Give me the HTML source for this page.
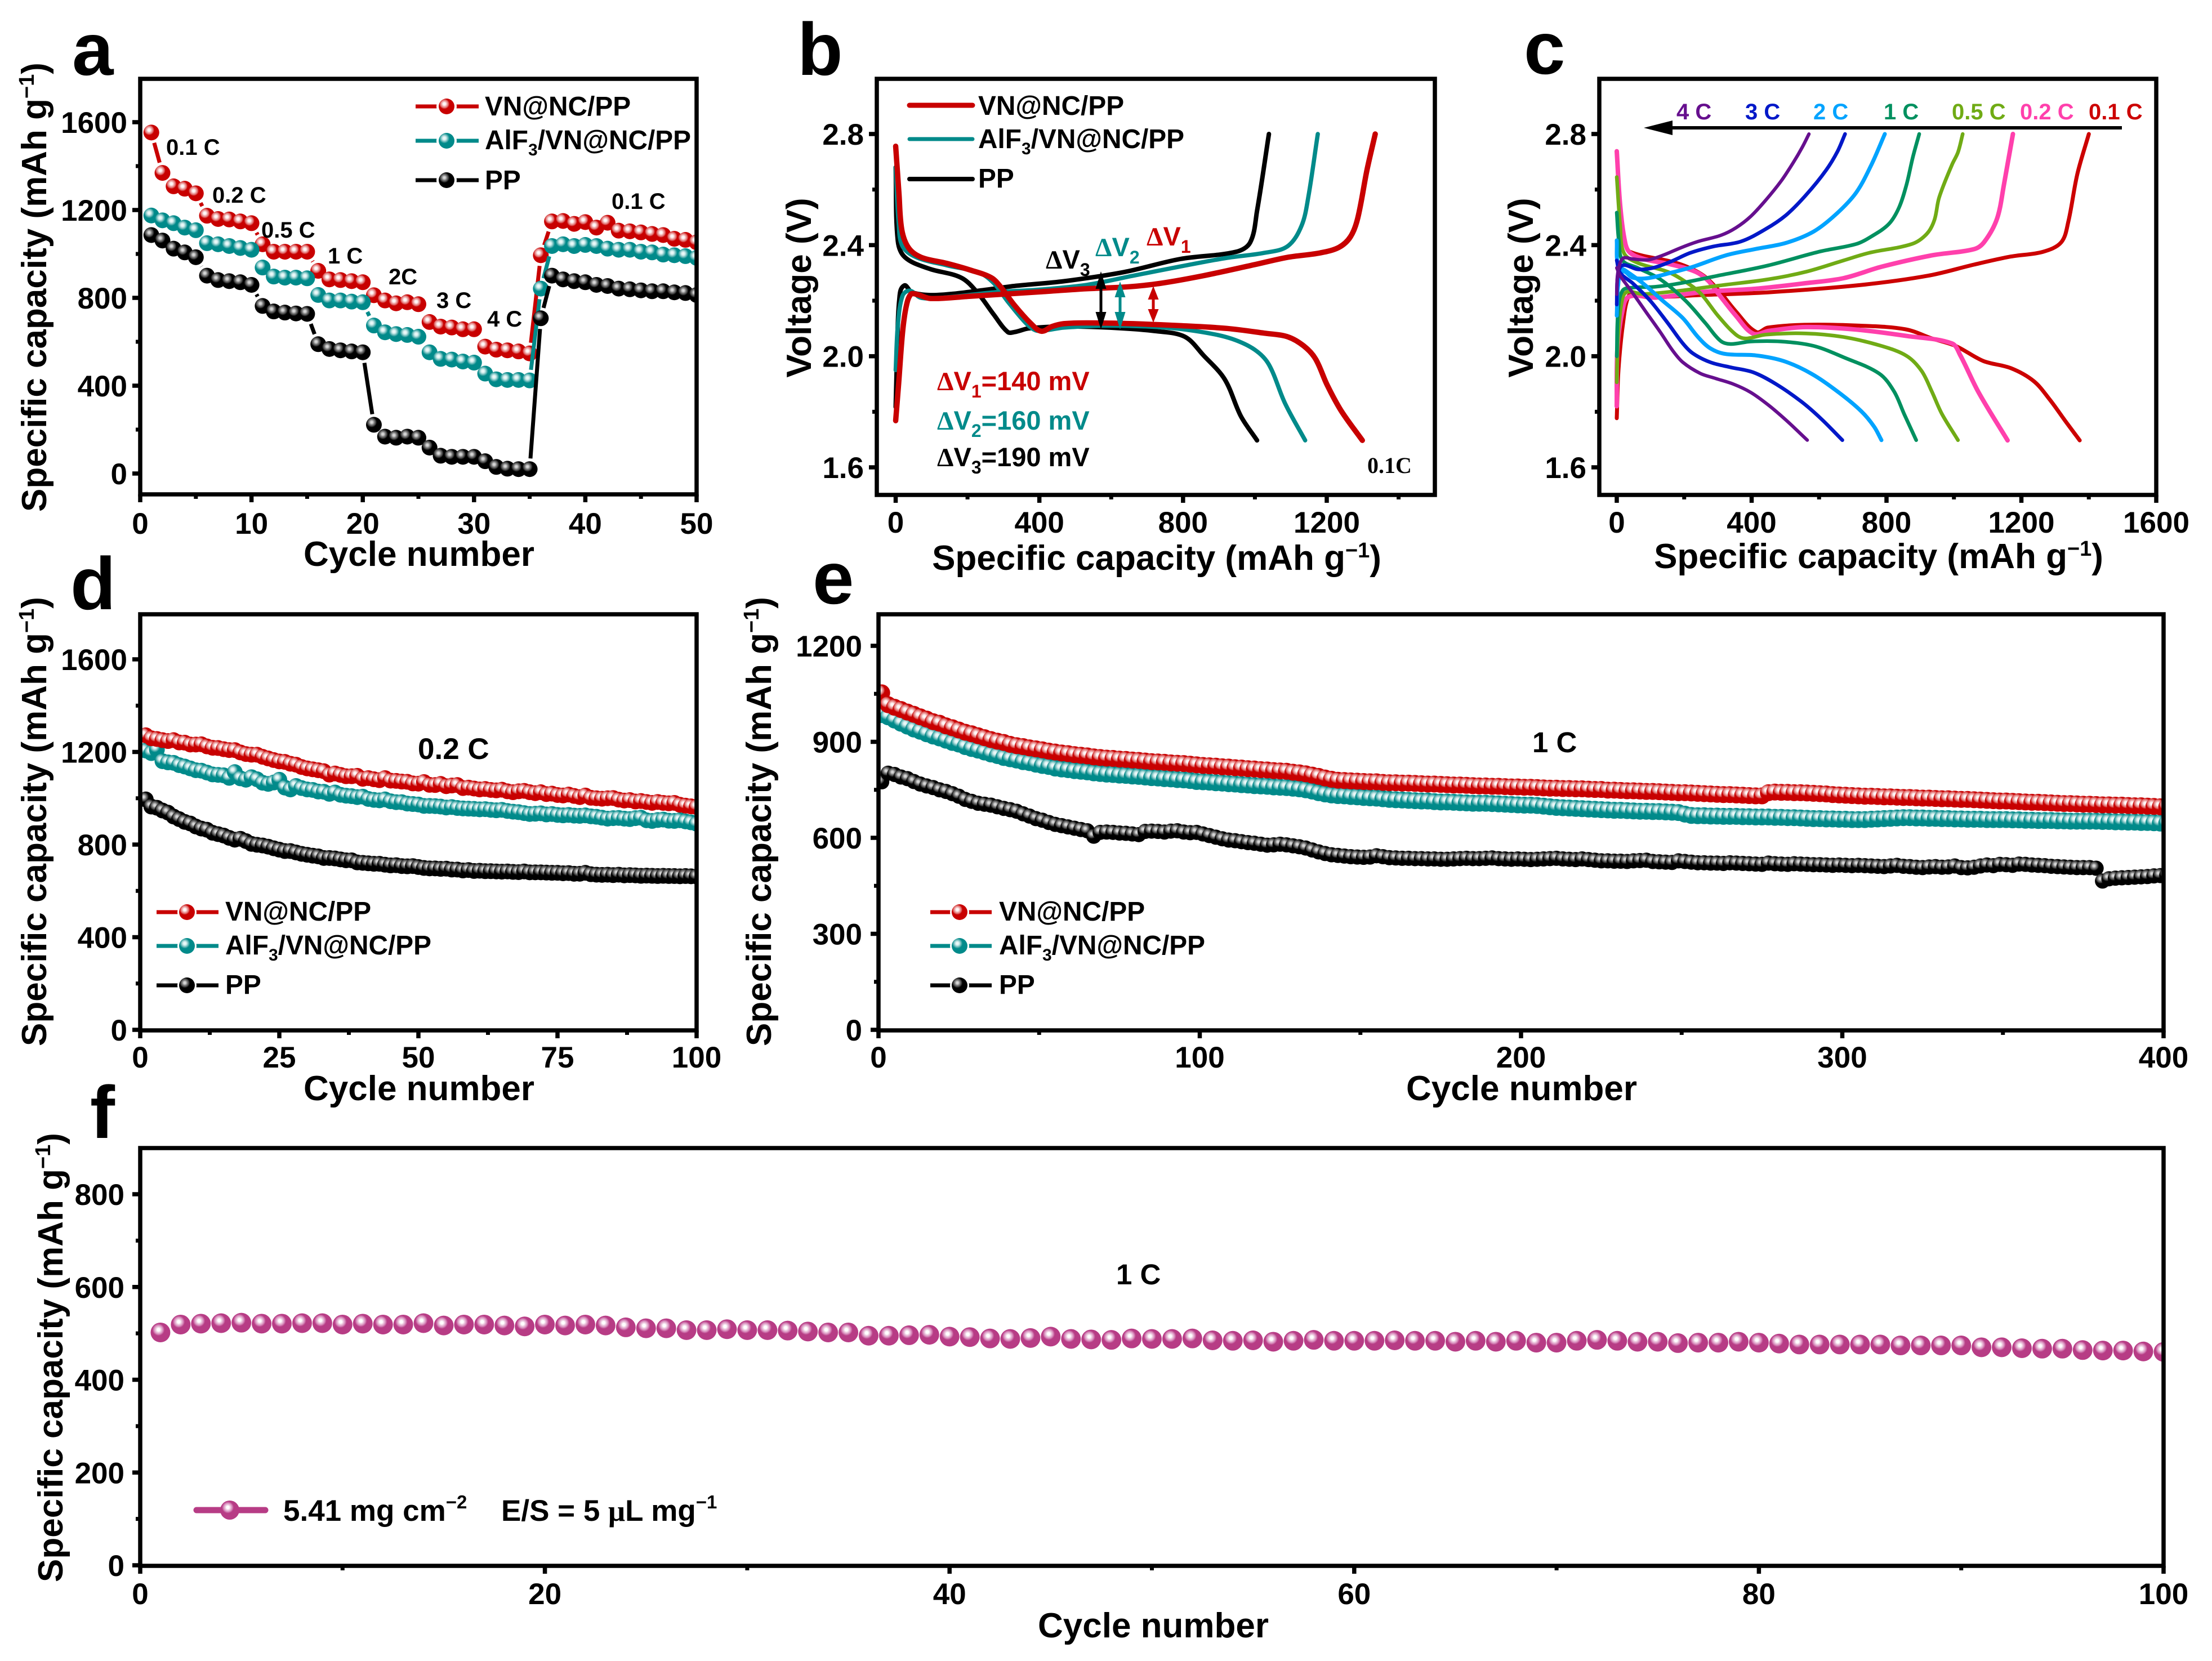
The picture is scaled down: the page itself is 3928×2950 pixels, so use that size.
<!DOCTYPE html>
<html lang="en">
<head>
<meta charset="utf-8">
<title>Battery performance figure</title>
<style>
html,body{margin:0;padding:0;background:#fff;}
svg{display:block;}
text{font-family:"Liberation Sans",sans-serif;font-weight:bold;fill:#000;}
.sym{font-family:"Liberation Serif",serif;font-weight:bold;}
.letter{font-size:132px;}
.title{font-size:62px;}
.leg{font-size:47.8px;}
.lab{font-size:40px;}
.tick{font-size:53px;}
.frame{fill:none;stroke:#000;stroke-width:7.5;}
</style>
</head>
<body>
<svg xmlns="http://www.w3.org/2000/svg" width="3928" height="2950" viewBox="0 0 3928 2950">
<defs>
<radialGradient id="gr" cx=".36" cy=".34" r=".5"><stop offset="0" stop-color="#fff"/><stop offset=".18" stop-color="#fdf0f0"/><stop offset=".3" stop-color="#f2baba"/><stop offset=".5" stop-color="#df6a6a"/><stop offset=".66" stop-color="#c80000"/><stop offset="1" stop-color="#c80000"/></radialGradient>
<radialGradient id="gt" cx=".36" cy=".34" r=".5"><stop offset="0" stop-color="#f4fcfc"/><stop offset=".18" stop-color="#e0f4f4"/><stop offset=".3" stop-color="#b4dede"/><stop offset=".5" stop-color="#52aeae"/><stop offset=".66" stop-color="#008a8a"/><stop offset="1" stop-color="#008a8a"/></radialGradient>
<radialGradient id="gk" cx=".36" cy=".34" r=".5"><stop offset="0" stop-color="#e4e4e4"/><stop offset=".18" stop-color="#c4c4c4"/><stop offset=".3" stop-color="#8a8a8a"/><stop offset=".5" stop-color="#444"/><stop offset=".66" stop-color="#000"/><stop offset="1" stop-color="#000"/></radialGradient>
<radialGradient id="gm" cx=".4" cy=".36" r=".5"><stop offset="0" stop-color="#fff"/><stop offset=".14" stop-color="#fff"/><stop offset=".26" stop-color="#eed0e2"/><stop offset=".44" stop-color="#d98fbe"/><stop offset=".62" stop-color="#b73c85"/><stop offset="1" stop-color="#b73c85"/></radialGradient>
<clipPath id="clip-a"><rect x="249" y="140" width="988" height="738"/></clipPath>
<clipPath id="clip-b"><rect x="1557" y="140" width="991" height="739"/></clipPath>
<clipPath id="clip-c"><rect x="2840" y="140" width="989" height="739"/></clipPath>
<clipPath id="clip-d"><rect x="249" y="1091" width="988" height="739"/></clipPath>
<clipPath id="clip-e"><rect x="1560" y="1091" width="2282" height="739"/></clipPath>
<clipPath id="clip-f"><rect x="249" y="2039" width="3593" height="742"/></clipPath>
</defs>

<!-- PANEL A -->
<g>
<text class="letter" x="128" y="133">a</text>
<g id="series-a" clip-path="url(#clip-a)"></g>
<rect class="frame" x="249" y="140" width="988" height="738"/>
<g id="ticks-a"></g>
<text class="title" transform="translate(82 510) rotate(-90)" text-anchor="middle">Specific capacity (mAh g<tspan dy="-22" font-size="38">−1</tspan><tspan dy="22">)</tspan></text>
<text class="title" x="744" y="1005" text-anchor="middle">Cycle number</text>
<g>
<text class="lab" x="295" y="275">0.1 C</text>
<text class="lab" x="377" y="360">0.2 C</text>
<text class="lab" x="464" y="422">0.5 C</text>
<text class="lab" x="582" y="468">1 C</text>
<text class="lab" x="690" y="505">2C</text>
<text class="lab" x="775" y="547">3 C</text>
<text class="lab" x="865" y="580">4 C</text>
<text class="lab" x="1086" y="371">0.1 C</text>
</g>
<g>
<line x1="738" x2="850" y1="189" y2="189" stroke="#c80000" stroke-width="7"/>
<circle cx="793" cy="189" r="18" fill="#fff"/>
<circle cx="793" cy="189" r="14" fill="url(#gr)"/>
<text class="leg" x="861" y="205">VN@NC/PP</text>
<line x1="738" x2="850" y1="250" y2="250" stroke="#008a8a" stroke-width="7"/>
<circle cx="793" cy="250" r="18" fill="#fff"/>
<circle cx="793" cy="250" r="14" fill="url(#gt)"/>
<text class="leg" x="861" y="265">AlF<tspan dy="11" font-size="30">3</tspan><tspan dy="-11">/VN@NC/PP</tspan></text>
<line x1="738" x2="850" y1="320" y2="320" stroke="#000" stroke-width="7"/>
<circle cx="793" cy="320" r="18" fill="#fff"/>
<circle cx="793" cy="320" r="14" fill="url(#gk)"/>
<text class="leg" x="861" y="336">PP</text>
</g>
</g>

<!-- PANEL B -->
<g>
<text class="letter" x="1416" y="133">b</text>
<g id="series-b" clip-path="url(#clip-b)"></g>
<rect class="frame" x="1557" y="140" width="991" height="739"/>
<g id="ticks-b"></g>
<text class="title" transform="translate(1440 511) rotate(-90)" text-anchor="middle">Voltage (V)</text>
<text class="title" x="2054" y="1012" text-anchor="middle">Specific capacity (mAh g<tspan dy="-22" font-size="38">−1</tspan><tspan dy="22">)</tspan></text>
<g>
<line x1="1615" x2="1727" y1="187" y2="187" stroke="#c80000" stroke-width="9" stroke-linecap="round"/>
<text class="leg" x="1737" y="204">VN@NC/PP</text>
<line x1="1615" x2="1727" y1="247" y2="247" stroke="#008a8a" stroke-width="7" stroke-linecap="round"/>
<text class="leg" x="1737" y="263">AlF<tspan dy="11" font-size="30">3</tspan><tspan dy="-11">/VN@NC/PP</tspan></text>
<line x1="1615" x2="1727" y1="318" y2="318" stroke="#000" stroke-width="8" stroke-linecap="round"/>
<text class="leg" x="1737" y="333">PP</text>
</g>
<g>
<g fill="#000" stroke="none"><rect x="1952.5" y="505" width="5" height="60"/><polygon points="1955,482 1945.5,513 1964.5,513"/><polygon points="1955,585 1945.5,554 1964.5,554"/></g>
<g fill="#008a8a" stroke="none"><rect x="1986.5" y="520" width="5" height="45"/><polygon points="1989,500 1979.5,528 1998.5,528"/><polygon points="1989,585 1979.5,554 1998.5,554"/></g>
<g fill="#c80000" stroke="none"><rect x="2045.5" y="525" width="5" height="30"/><polygon points="2048,508 2038.5,532 2057.5,532"/><polygon points="2048,573 2038.5,549 2057.5,549"/></g>
</g>
<g font-size="47">
<text x="1857" y="477" font-size="47"><tspan class="sym">Δ</tspan>V<tspan dy="13" font-size="32">3</tspan></text>
<text x="1945" y="455" font-size="47" style="fill:#008a8a"><tspan class="sym">Δ</tspan>V<tspan dy="13" font-size="32">2</tspan></text>
<text x="2036" y="436" font-size="47" style="fill:#c80000"><tspan class="sym">Δ</tspan>V<tspan dy="13" font-size="32">1</tspan></text>
<text x="1664" y="693" font-size="47" style="fill:#c80000"><tspan class="sym">Δ</tspan>V<tspan dy="13" font-size="32">1</tspan><tspan dy="-13">=140 mV</tspan></text>
<text x="1664" y="763" font-size="47" style="fill:#008a8a"><tspan class="sym">Δ</tspan>V<tspan dy="13" font-size="32">2</tspan><tspan dy="-13">=160 mV</tspan></text>
<text x="1664" y="828" font-size="47"><tspan class="sym">Δ</tspan>V<tspan dy="13" font-size="32">3</tspan><tspan dy="-13">=190 mV</tspan></text>
<text class="sym" x="2428" y="840" font-size="40">0.1C</text>
</g>
</g>

<!-- PANEL C -->
<g>
<text class="letter" x="2706" y="131">c</text>
<g id="series-c" clip-path="url(#clip-c)"></g>
<rect class="frame" x="2840" y="140" width="989" height="739"/>
<g id="ticks-c"></g>
<text class="title" transform="translate(2722 511) rotate(-90)" text-anchor="middle">Voltage (V)</text>
<text class="title" x="3336" y="1009" text-anchor="middle">Specific capacity (mAh g<tspan dy="-22" font-size="38">−1</tspan><tspan dy="22">)</tspan></text>
<g>
<rect x="2965" y="224" width="803" height="6" fill="#000"/>
<polygon points="2919,227 2970,214 2970,240" fill="#000"/>
</g>
<g>
<text class="lab" x="2977" y="212" style="fill:#660f8e">4 C</text>
<text class="lab" x="3099" y="212" style="fill:#0018c8">3 C</text>
<text class="lab" x="3220" y="212" style="fill:#00a3ff">2 C</text>
<text class="lab" x="3345" y="212" style="fill:#00905f">1 C</text>
<text class="lab" x="3466" y="212" style="fill:#70ab15">0.5 C</text>
<text class="lab" x="3587" y="212" style="fill:#ff40ac">0.2 C</text>
<text class="lab" x="3709" y="212" style="fill:#cc0000">0.1 C</text>
</g>
</g>

<!-- PANEL D -->
<g>
<text class="letter" x="125" y="1082">d</text>
<g id="series-d" clip-path="url(#clip-d)"></g>
<rect class="frame" x="249" y="1091" width="988" height="739"/>
<g id="ticks-d"></g>
<text class="title" transform="translate(82 1459) rotate(-90)" text-anchor="middle">Specific capacity (mAh g<tspan dy="-22" font-size="38">−1</tspan><tspan dy="22">)</tspan></text>
<text class="title" x="744" y="1954" text-anchor="middle">Cycle number</text>
<text x="742" y="1348" font-size="53">0.2 C</text>
<g>
<line x1="278" x2="388" y1="1620" y2="1620" stroke="#c80000" stroke-width="7"/>
<circle cx="332" cy="1620" r="17" fill="#fff"/>
<circle cx="332" cy="1620" r="14" fill="url(#gr)"/>
<text class="leg" x="400" y="1635">VN@NC/PP</text>
<line x1="278" x2="388" y1="1680" y2="1680" stroke="#008a8a" stroke-width="7"/>
<circle cx="332" cy="1680" r="17" fill="#fff"/>
<circle cx="332" cy="1680" r="14" fill="url(#gt)"/>
<text class="leg" x="400" y="1695">AlF<tspan dy="11" font-size="30">3</tspan><tspan dy="-11">/VN@NC/PP</tspan></text>
<line x1="278" x2="388" y1="1750" y2="1750" stroke="#000" stroke-width="7"/>
<circle cx="332" cy="1750" r="17" fill="#fff"/>
<circle cx="332" cy="1750" r="14" fill="url(#gk)"/>
<text class="leg" x="400" y="1765">PP</text>
</g>
</g>

<!-- PANEL E -->
<g>
<text class="letter" x="1443" y="1072">e</text>
<g id="series-e" clip-path="url(#clip-e)"></g>
<rect class="frame" x="1560" y="1091" width="2282" height="739"/>
<g id="ticks-e"></g>
<text class="title" transform="translate(1369 1459) rotate(-90)" text-anchor="middle">Specific capacity (mAh g<tspan dy="-22" font-size="38">−1</tspan><tspan dy="22">)</tspan></text>
<text class="title" x="2702" y="1954" text-anchor="middle">Cycle number</text>
<text x="2721" y="1336" font-size="51">1 C</text>
<g>
<line x1="1652" x2="1761" y1="1620" y2="1620" stroke="#c80000" stroke-width="7"/>
<circle cx="1704" cy="1620" r="17" fill="#fff"/>
<circle cx="1704" cy="1620" r="14" fill="url(#gr)"/>
<text class="leg" x="1774" y="1635">VN@NC/PP</text>
<line x1="1652" x2="1761" y1="1680" y2="1680" stroke="#008a8a" stroke-width="7"/>
<circle cx="1704" cy="1680" r="17" fill="#fff"/>
<circle cx="1704" cy="1680" r="14" fill="url(#gt)"/>
<text class="leg" x="1774" y="1695">AlF<tspan dy="11" font-size="30">3</tspan><tspan dy="-11">/VN@NC/PP</tspan></text>
<line x1="1652" x2="1761" y1="1750" y2="1750" stroke="#000" stroke-width="7"/>
<circle cx="1704" cy="1750" r="17" fill="#fff"/>
<circle cx="1704" cy="1750" r="14" fill="url(#gk)"/>
<text class="leg" x="1774" y="1765">PP</text>
</g>
</g>

<!-- PANEL F -->
<g>
<text class="letter" x="160" y="2021">f</text>
<g id="series-f" clip-path="url(#clip-f)"></g>
<rect class="frame" x="249" y="2039" width="3593" height="742"/>
<g id="ticks-f"></g>
<text class="title" transform="translate(111 2411) rotate(-90)" text-anchor="middle">Specific capacity (mAh g<tspan dy="-22" font-size="38">−1</tspan><tspan dy="22">)</tspan></text>
<text class="title" x="2048" y="2908" text-anchor="middle">Cycle number</text>
<text x="1982" y="2281" font-size="51">1 C</text>
<g>
<line x1="349" x2="471" y1="2682" y2="2682" stroke="#b73c85" stroke-width="11" stroke-linecap="round"/>
<circle cx="408" cy="2682" r="17" fill="url(#gm)"/>
<text x="503" y="2701" font-size="53">5.41 mg cm<tspan dy="-22" font-size="33">−2</tspan></text>
<text x="890" y="2701" font-size="53">E/S = 5 <tspan class="sym">μ</tspan>L mg<tspan dy="-22" font-size="33">−1</tspan></text>
</g>
</g>
</svg>

<script>
// ---------- Panel a: rate capability (cycles 1..50) ----------
const aVn = [1553,1369,1308,1297,1276,1174,1159,1157,1148,1140,1044,1010,1010,1010,1010,923,884,881,876,871,812,788,775,780,771,690,669,665,657,657,578,564,561,556,547,994,1148,1150,1137,1145,1120,1142,1106,1103,1098,1091,1086,1069,1064,1053];
const aAlf = [1175,1153,1140,1120,1108,1049,1044,1036,1027,1019,938,897,892,892,889,813,788,788,783,780,674,643,635,631,623,552,522,519,510,505,455,429,426,426,424,842,1036,1044,1036,1041,1036,1024,1019,1019,1010,1007,997,994,990,982];
const aPp = [1086,1061,1024,1007,985,901,881,876,871,859,763,738,733,729,727,589,567,561,556,552,222,168,163,168,163,118,81,76,76,76,56,30,22,20,20,707,901,884,876,871,859,854,842,839,834,830,830,825,822,813];
const aXTicks = ['0','10','20','30','40','50'];
const aXMinor = [5,15,25,35,45];
const aYTicks = ['0','400','800','1200','1600'];
const aYMinor = [200,600,1000,1400];

// ---------- Panel b: voltage profiles at 0.1 C, [capacity, voltage] ----------
const bVnDis = [[0,2.756],[9,2.59],[17,2.456],[36,2.39],[71,2.356],[143,2.334],[208,2.31],[266,2.283],[292,2.25],[331,2.183],[377,2.117],[406,2.09],[435,2.107],[468,2.117],[532,2.12],[662,2.117],[792,2.11],[922,2.1],[1026,2.083],[1091,2.07],[1136,2.037],[1169,1.99],[1201,1.897],[1240,1.804],[1299,1.697]];
const bVnCha = [[0,1.768],[8,1.897],[19,2.083],[29,2.177],[42,2.223],[58,2.223],[97,2.208],[208,2.216],[403,2.232],[532,2.243],[649,2.25],[740,2.263],[857,2.29],[1000,2.33],[1091,2.356],[1182,2.372],[1234,2.392],[1266,2.43],[1286,2.496],[1312,2.67],[1335,2.8]];
const bAlfDis = [[0,2.68],[8,2.483],[19,2.396],[58,2.356],[143,2.327],[234,2.3],[273,2.263],[312,2.197],[364,2.117],[390,2.093],[416,2.093],[468,2.103],[597,2.11],[753,2.103],[857,2.086],[935,2.063],[1000,2.023],[1039,1.97],[1084,1.83],[1140,1.697]];
const bAlfCha = [[0,1.95],[6,2.11],[19,2.217],[39,2.236],[71,2.21],[143,2.212],[273,2.23],[403,2.24],[532,2.257],[662,2.29],[792,2.323],[922,2.354],[1026,2.372],[1091,2.396],[1130,2.47],[1149,2.576],[1175,2.8]];
const bPpDis = [[0,2.68],[6,2.416],[26,2.356],[91,2.316],[182,2.283],[227,2.23],[273,2.15],[312,2.087],[331,2.087],[370,2.1],[468,2.107],[597,2.103],[727,2.09],[805,2.07],[857,2.003],[916,1.917],[961,1.784],[1006,1.697]];
const bPpCha = [[0,1.817],[4,2.017],[10,2.203],[23,2.254],[45,2.23],[97,2.22],[169,2.226],[273,2.243],[338,2.254],[468,2.27],[636,2.303],[792,2.35],[948,2.376],[987,2.41],[1006,2.523],[1039,2.8]];
const bXTicks = ['0','400','800','1200'];
const bXMinor = [200,600,1000,1400];
const vTicks = ['1.6','2.0','2.4','2.8'];
const vMinor = [1.8,2.2,2.6];

// ---------- Panel c: voltage profiles at 0.1 C to 4 C ----------
const c01Dis = [[0,2.736],[10,2.54],[25,2.41],[39,2.376],[176,2.336],[250,2.296],[298,2.243],[352,2.163],[414,2.087],[448,2.103],[556,2.113],[720,2.11],[856,2.097],[937,2.063],[1005,2.037],[1087,1.983],[1169,1.957],[1237,1.91],[1284,1.844],[1332,1.764],[1373,1.697]];
const c01Cha = [[0,1.777],[5,1.95],[19,2.123],[35,2.217],[53,2.223],[107,2.213],[244,2.22],[448,2.23],[720,2.256],[924,2.29],[1060,2.33],[1169,2.359],[1264,2.376],[1318,2.41],[1339,2.483],[1366,2.656],[1400,2.8]];
const c02Dis = [[0,2.738],[10,2.544],[25,2.408],[40,2.372],[84,2.349],[159,2.331],[234,2.304],[271,2.272],[300,2.227],[353,2.146],[405,2.081],[450,2.091],[561,2.105],[710,2.096],[860,2.073],[994,2.046],[1019,2.003],[1073,1.87],[1159,1.697]];
const c02Cha = [[0,1.82],[2,2.028],[17,2.164],[36,2.214],[114,2.211],[263,2.232],[412,2.243],[561,2.263],[673,2.281],[785,2.322],[934,2.363],[1061,2.386],[1091,2.413],[1128,2.496],[1148,2.616],[1175,2.8]];
const c05Dis = [[0,2.645],[10,2.472],[21,2.372],[62,2.336],[151,2.304],[204,2.268],[248,2.227],[300,2.146],[353,2.078],[382,2.064],[442,2.078],[561,2.082],[673,2.069],[785,2.037],[860,2.001],[904,1.947],[934,1.874],[964,1.793],[1012,1.698]];
const c05Cha = [[0,1.906],[4,2.073],[17,2.209],[32,2.232],[77,2.224],[189,2.236],[300,2.254],[450,2.277],[561,2.304],[673,2.345],[748,2.372],[875,2.404],[919,2.44],[942,2.49],[956,2.571],[994,2.689],[1012,2.734],[1026,2.8]];
const c1Dis = [[0,2.517],[6,2.417],[17,2.345],[62,2.318],[129,2.277],[204,2.2],[263,2.119],[308,2.055],[338,2.044],[397,2.053],[487,2.053],[584,2.037],[673,1.996],[778,1.938],[822,1.874],[852,1.793],[888,1.698]];
const c1Cha = [[0,2.0],[4,2.164],[17,2.236],[47,2.247],[114,2.25],[189,2.263],[300,2.29],[450,2.327],[599,2.376],[710,2.404],[755,2.431],[807,2.476],[837,2.535],[859,2.616],[878,2.716],[897,2.8]];
const c2Dis = [[0,2.417],[4,2.327],[25,2.309],[77,2.263],[136,2.2],[196,2.137],[241,2.069],[278,2.028],[323,2.008],[412,2.003],[494,1.983],[576,1.938],[658,1.87],[725,1.802],[763,1.747],[785,1.698]];
const c2Cha = [[0,2.146],[4,2.254],[17,2.304],[47,2.283],[92,2.281],[159,2.3],[226,2.322],[323,2.363],[412,2.386],[502,2.408],[584,2.449],[651,2.512],[710,2.589],[755,2.689],[795,2.8]];
const c3Dis = [[0,2.345],[10,2.3],[47,2.263],[99,2.2],[151,2.12],[196,2.046],[226,2.01],[278,1.978],[338,1.96],[405,1.942],[472,1.9],[546,1.838],[606,1.775],[669,1.698]];
const c3Cha = [[0,2.186],[2,2.28],[11,2.322],[25,2.328],[62,2.313],[107,2.318],[159,2.34],[218,2.372],[286,2.395],[368,2.413],[442,2.458],[502,2.508],[561,2.58],[621,2.67],[655,2.738],[677,2.8]];
const c4Dis = [[0,2.318],[10,2.29],[40,2.24],[84,2.164],[129,2.087],[166,2.02],[196,1.978],[248,1.938],[293,1.92],[345,1.9],[397,1.87],[450,1.824],[502,1.77],[565,1.698]];
const c4Cha = [[0,2.223],[2,2.29],[10,2.336],[21,2.354],[47,2.35],[92,2.347],[136,2.363],[189,2.39],[241,2.413],[308,2.435],[353,2.462],[397,2.503],[442,2.562],[487,2.63],[524,2.698],[550,2.752],[570,2.8]];
const cXTicks = ['0','400','800','1200','1600'];
const cXMinor = [200,600,1000,1400];

// ---------- Panel d: cycling at 0.2 C (cycles 1..100) ----------
const dVn = [1272,1259,1256,1251,1247,1251,1241,1240,1232,1232,1233,1224,1218,1217,1212,1208,1208,1198,1191,1188,1188,1179,1172,1165,1159,1157,1149,1145,1135,1129,1125,1121,1117,1102,1107,1101,1095,1095,1097,1084,1087,1082,1078,1087,1076,1075,1072,1071,1064,1063,1070,1058,1057,1062,1052,1055,1057,1044,1046,1042,1038,1040,1036,1034,1037,1030,1026,1030,1032,1026,1022,1026,1018,1020,1014,1012,1016,1010,1005,1012,1002,1000,998,1000,1001,994,990,992,986,988,984,980,984,980,978,980,972,968,965,962];
const dAlf = [1206,1195,1210,1160,1155,1153,1143,1137,1129,1121,1119,1111,1103,1101,1099,1088,1113,1086,1080,1091,1082,1067,1062,1068,1080,1046,1038,1053,1044,1038,1036,1029,1028,1019,1025,1015,1011,1009,1005,1007,997,993,991,995,987,983,983,977,975,973,967,967,966,964,960,962,958,956,955,954,952,953,950,948,950,945,942,940,936,932,933,935,930,932,928,926,928,925,924,926,922,920,916,912,914,915,912,910,914,916,905,902,906,908,903,902,905,900,896,890];
const dPp = [995,964,959,947,938,921,910,898,891,878,869,864,851,845,839,829,821,825,815,803,799,796,791,784,778,772,772,766,760,756,752,749,742,742,740,736,732,732,723,721,719,717,717,713,710,711,707,706,707,703,699,697,697,695,696,692,692,688,690,686,687,685,685,684,683,684,682,681,684,680,680,680,679,678,678,676,677,674,674,678,672,670,669,670,668,670,667,668,667,665,666,665,664,665,664,664,663,664,663,662];
const dXTicks = ['0','25','50','75','100'];
const dXMinor = [12.5,37.5,62.5,87.5];
const dYTicks = ['0','400','800','1200','1600'];
const dYMinor = [200,600,1000,1400];

// ---------- Panel e: cycling at 1 C, sampled at cycles 1,3,5,... ----------
const eVn = [1053,1016,1008,1001,993,986,978,971,963,958,950,944,937,930,925,919,913,907,902,898,892,888,885,881,878,875,871,868,865,863,860,858,856,853,851,849,848,846,845,843,842,840,838,837,836,834,833,832,830,828,826,825,824,822,821,819,818,816,815,813,812,810,809,808,805,803,800,796,792,787,783,780,779,778,777,776,775,775,773,772,772,771,771,770,769,768,768,767,766,765,765,764,763,762,762,761,761,760,759,759,758,758,757,756,755,755,754,754,753,753,752,751,751,749,749,748,747,747,746,745,745,744,743,742,741,741,740,739,738,737,736,735,735,734,733,732,731,731,741,743,742,742,741,741,740,739,738,737,735,734,733,732,731,730,730,729,728,728,727,726,726,725,724,724,723,722,722,721,720,720,719,718,717,716,715,715,714,713,712,711,711,710,709,708,707,707,706,705,705,704,703,703,702,702,701,700,700,699,698,697,697];
const eAlf = [985,978,968,958,949,940,933,925,918,912,905,898,893,885,879,874,868,862,857,851,847,843,838,835,830,826,823,818,815,813,810,808,806,803,801,799,798,796,795,793,792,790,788,787,785,784,782,781,779,776,775,774,772,771,769,768,766,765,763,762,761,759,758,757,755,753,750,746,741,737,734,732,731,729,728,726,725,724,722,720,719,718,717,716,715,715,713,712,712,711,710,709,708,708,708,707,706,705,704,703,702,702,701,699,697,695,694,693,692,691,690,689,688,687,686,686,685,684,683,683,682,682,681,680,679,674,670,669,669,668,668,667,667,667,666,666,665,665,665,664,664,663,663,662,661,660,660,659,659,658,658,657,657,657,658,659,660,661,662,663,663,662,662,661,661,660,660,659,659,658,658,658,657,657,657,657,656,656,655,655,654,654,654,653,653,652,652,652,652,652,651,651,650,650,649,649,648,648,647,646,646];
const ePp = [775,802,798,790,785,776,768,762,757,750,745,738,730,720,714,708,705,702,697,692,688,683,675,668,660,655,648,642,638,634,630,626,622,605,617,618,617,615,614,612,610,620,621,620,618,621,622,618,616,617,612,607,602,597,593,591,588,585,583,580,577,578,580,578,575,572,568,562,556,551,547,545,543,541,540,539,540,544,541,538,537,536,536,535,535,534,534,533,533,534,535,536,535,535,536,537,535,534,533,534,533,532,533,534,535,536,534,533,532,534,532,530,528,528,527,527,526,528,529,530,526,525,524,523,528,526,524,522,522,521,521,520,522,521,520,519,518,517,521,519,518,517,519,518,517,516,516,515,514,515,514,513,514,513,512,511,510,512,514,511,510,508,507,509,510,508,509,512,507,506,508,512,515,513,517,516,514,518,517,515,514,513,511,510,509,508,507,507,507,505,465,472,474,475,476,477,478,479,481,482,483];
const eXTicks = ['0','100','200','300','400'];
const eXMinor = [50,150,250,350];
const eYTicks = ['0','300','600','900','1200'];
const eYMinor = [150,450,750,1050];

// ---------- Panel f: high-loading cycling (cycles 1..100) ----------
const fLoad = [502,519,521,522,523,521,521,522,522,519,521,519,519,522,517,519,519,517,515,519,517,519,517,513,511,511,507,507,509,507,507,506,504,502,502,495,495,496,497,493,492,489,488,490,493,488,487,486,489,488,488,489,485,484,485,482,484,486,484,484,484,485,484,484,482,484,482,484,480,480,484,486,484,482,482,479,480,480,482,480,478,476,476,476,476,476,474,474,474,474,470,470,468,467,467,464,463,463,461,460];
const fXTicks = ['0','20','40','60','80','100'];
const fXMinor = [10,30,50,70,90];
const fYTicks = ['0','200','400','600','800'];
const fYMinor = [100,300,500,700];

// ---------- helpers ----------
const SVGNS = 'http://www.w3.org/2000/svg';
function mk(tag, attrs, parent) {
  const n = document.createElementNS(SVGNS, tag);
  for (const k in attrs) n.setAttribute(k, attrs[k]);
  parent.appendChild(n);
  return n;
}
function linear(d0, d1, p0, p1) {
  return function (v) { return p0 + (v - d0) * (p1 - p0) / (d1 - d0); };
}

function drawTicks(panelId, xs, ys, frame, xLabels, xMinor, yLabels, yMinor, xBase, yRight) {
  const g = document.getElementById('ticks-' + panelId);
  const left = frame[0], bottom = frame[1];
  xLabels.forEach(function (lab) {
    const v = Number(lab);
    const t = mk('line', {x1: xs(v), x2: xs(v), y1: bottom, y2: bottom + 14, stroke: '#000', 'stroke-width': 7.5}, g);
    
    
    const s = mk('text', {class: 'tick', x: xs(v), y: xBase, 'text-anchor': 'middle'}, g);
    s.textContent = lab;
    
    
  });
  xMinor.forEach(function (v) {
    const t = mk('line', {x1: xs(v), x2: xs(v), y1: bottom, y2: bottom + 8, stroke: '#000', 'stroke-width': 7}, g);
    
    
  });
  yLabels.forEach(function (lab) {
    const v = Number(lab);
    const t = mk('line', {x1: left, x2: left - 14, y1: ys(v), y2: ys(v), stroke: '#000', 'stroke-width': 7.5}, g);
    
    
    const s = mk('text', {class: 'tick', x: yRight, y: ys(v) + 19, 'text-anchor': 'end'}, g);
    s.textContent = lab;
    
    
  });
  yMinor.forEach(function (v) {
    const t = mk('line', {x1: left, x2: left - 8, y1: ys(v), y2: ys(v), stroke: '#000', 'stroke-width': 7}, g);
    
    
  });
}

function drawBeads(panelId, name, values, cycleOf, xs, ys, r, grad, color, trim) {
  const parent = document.getElementById('series-' + panelId);
  const g = mk('g', {}, parent);
  
  
  for (let i = 0; i + 1 < values.length; i++) {
    const x1 = xs(cycleOf(i)), y1 = ys(values[i]), x2 = xs(cycleOf(i + 1)), y2 = ys(values[i + 1]);
    const len = Math.hypot(x2 - x1, y2 - y1);
    if (len <= 2 * trim) continue;
    const ux = (x2 - x1) / len, uy = (y2 - y1) / len;
    const seg = mk('line', {x1: x1 + ux * trim, y1: y1 + uy * trim, x2: x2 - ux * trim, y2: y2 - uy * trim, stroke: color, 'stroke-width': 7}, g);
    
    
  }
  values.forEach(function (v, i) {
    const c = mk('circle', {cx: xs(cycleOf(i)), cy: ys(v), r: r, fill: 'url(#' + grad + ')'}, g);
    
    
  });
}

function smoothPath(points, xs, ys) {
  const p = points.map(function (d) { return [xs(d[0]), ys(d[1])]; });
  function tangent(i) {
    const a = p[Math.max(i - 1, 0)], c = p[Math.min(i + 1, p.length - 1)];
    const dx = c[0] - a[0], dy = c[1] - a[1], len = Math.hypot(dx, dy) || 1;
    return [dx / len, dy / len];
  }
  let out = 'M' + p[0][0].toFixed(1) + ' ' + p[0][1].toFixed(1);
  for (let i = 0; i + 1 < p.length; i++) {
    const b = p[i], c = p[i + 1];
    const seg = Math.hypot(c[0] - b[0], c[1] - b[1]) / 3;
    const tb = tangent(i), tc = tangent(i + 1);
    out += 'C' + (b[0] + tb[0] * seg).toFixed(1) + ' ' + (b[1] + tb[1] * seg).toFixed(1) + ' ' + (c[0] - tc[0] * seg).toFixed(1) + ' ' + (c[1] - tc[1] * seg).toFixed(1) + ' ' + c[0].toFixed(1) + ' ' + c[1].toFixed(1);
  }
  return out;
}

function drawCurve(panelId, name, points, xs, ys, color, width) {
  const parent = document.getElementById('series-' + panelId);
  const path = mk('path', {d: smoothPath(points, xs, ys), fill: 'none', stroke: color, 'stroke-width': width, 'stroke-linecap': 'round', 'stroke-linejoin': 'round'}, parent);
  
  
}

// ---------- axes ----------
const ax = linear(0, 50, 249, 1237), ay = linear(0, 1600, 841, 217);
const bx = linear(0, 1200, 1590.5, 2356), by = linear(1.6, 2.8, 830, 238);
const cx = linear(0, 1600, 2871, 3829), cy = linear(1.6, 2.8, 830, 238);
const dx = linear(0, 100, 249, 1237), dy = linear(0, 1600, 1829, 1171);
const ex = linear(0, 400, 1560, 3842), ey = linear(0, 1200, 1829, 1147);
const fx = linear(0, 100, 249, 3842), fy = linear(0, 800, 2780, 2121);

// ---------- draw ----------
function oneBased(i) { return i + 1; }
function everyOther(i) { return 1 + 2 * i; }

drawBeads('a', 'vn-nc-pp', aVn, oneBased, ax, ay, 14, 'gr', '#c80000', 19);
drawBeads('a', 'alf3-vn-nc-pp', aAlf, oneBased, ax, ay, 14, 'gt', '#008a8a', 19);
drawBeads('a', 'pp', aPp, oneBased, ax, ay, 14, 'gk', '#000', 19);
drawTicks('a', ax, ay, [249, 878], aXTicks, aXMinor, aYTicks, aYMinor, 948, 226);

drawCurve('b', 'pp-discharge', bPpDis, bx, by, '#000', 8);
drawCurve('b', 'pp-charge', bPpCha, bx, by, '#000', 8);
drawCurve('b', 'alf3-discharge', bAlfDis, bx, by, '#008a8a', 7.5);
drawCurve('b', 'alf3-charge', bAlfCha, bx, by, '#008a8a', 7.5);
drawCurve('b', 'vn-nc-pp-discharge', bVnDis, bx, by, '#c80000', 9.5);
drawCurve('b', 'vn-nc-pp-charge', bVnCha, bx, by, '#c80000', 9.5);
drawTicks('b', bx, by, [1557, 879], bXTicks, bXMinor, vTicks, vMinor, 946, 1534);

drawCurve('c', 'discharge-0.1c', c01Dis, cx, cy, '#cc0000', 7);
drawCurve('c', 'charge-0.1c', c01Cha, cx, cy, '#cc0000', 7);
drawCurve('c', 'discharge-0.2c', c02Dis, cx, cy, '#ff40ac', 8);
drawCurve('c', 'charge-0.2c', c02Cha, cx, cy, '#ff40ac', 8);
drawCurve('c', 'discharge-0.5c', c05Dis, cx, cy, '#70ab15', 6.5);
drawCurve('c', 'charge-0.5c', c05Cha, cx, cy, '#70ab15', 6.5);
drawCurve('c', 'discharge-1c', c1Dis, cx, cy, '#00905f', 6.5);
drawCurve('c', 'charge-1c', c1Cha, cx, cy, '#00905f', 6.5);
drawCurve('c', 'discharge-2c', c2Dis, cx, cy, '#00a3ff', 7);
drawCurve('c', 'charge-2c', c2Cha, cx, cy, '#00a3ff', 7);
drawCurve('c', 'discharge-3c', c3Dis, cx, cy, '#0018c8', 6.5);
drawCurve('c', 'charge-3c', c3Cha, cx, cy, '#0018c8', 6.5);
drawCurve('c', 'discharge-4c', c4Dis, cx, cy, '#660f8e', 6);
drawCurve('c', 'charge-4c', c4Cha, cx, cy, '#660f8e', 6);
drawTicks('c', cx, cy, [2840, 879], cXTicks, cXMinor, vTicks, vMinor, 946, 2817);

drawBeads('d', 'pp', dPp, oneBased, dx, dy, 14, 'gk', '#000', 16);
drawBeads('d', 'alf3-vn-nc-pp', dAlf, oneBased, dx, dy, 14, 'gt', '#008a8a', 16);
drawBeads('d', 'vn-nc-pp', dVn, oneBased, dx, dy, 14, 'gr', '#c80000', 16);
drawTicks('d', dx, dy, [249, 1830], dXTicks, dXMinor, dYTicks, dYMinor, 1896, 226);

drawBeads('e', 'pp', ePp, everyOther, ex, ey, 13.5, 'gk', '#000', 15);
drawBeads('e', 'alf3-vn-nc-pp', eAlf, everyOther, ex, ey, 15, 'gt', '#008a8a', 16);
drawBeads('e', 'vn-nc-pp', eVn, everyOther, ex, ey, 15, 'gr', '#c80000', 16);
drawTicks('e', ex, ey, [1560, 1830], eXTicks, eXMinor, eYTicks, eYMinor, 1896, 1531);

drawBeads('f', 'high-loading', fLoad, oneBased, fx, fy, 17.5, 'gm', '#b73c85', 20);
drawTicks('f', fx, fy, [249, 2781], fXTicks, fXMinor, fYTicks, fYMinor, 2849, 221);
</script>
</body>
</html>
